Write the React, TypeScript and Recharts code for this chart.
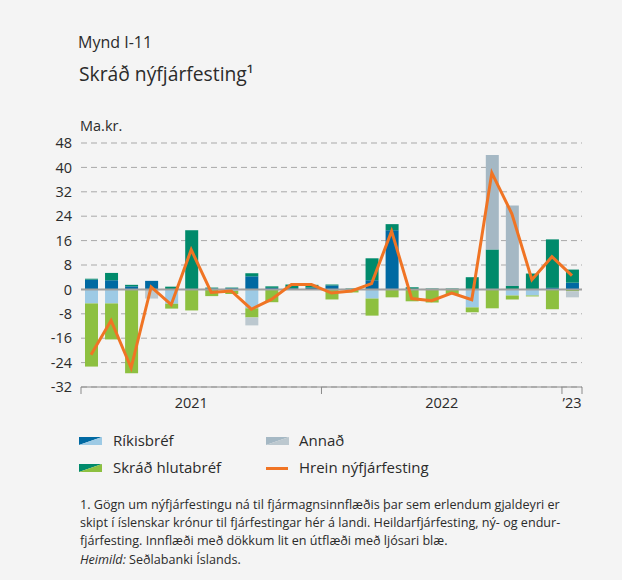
import React from 'react'
import {
  ComposedChart, Bar, Line, XAxis, YAxis, CartesianGrid, ReferenceLine,
} from 'recharts'

/* ── Gögn (ma.kr.), jan 2021 – jan 2023 ── */
const months = [
  '2021-01', '2021-02', '2021-03', '2021-04', '2021-05', '2021-06',
  '2021-07', '2021-08', '2021-09', '2021-10', '2021-11', '2021-12',
  '2022-01', '2022-02', '2022-03', '2022-04', '2022-05', '2022-06',
  '2022-07', '2022-08', '2022-09', '2022-10', '2022-11', '2022-12',
  '2023-01',
]
const rikisbrefInn = [3.2, 3.0, 1.0, 2.8, 0, 0, 0.3, 0.4, 4.3, 0.5, 0.4, 0.6, 1.3, 0, 3.0, 19.4, 0, 0, 0, 0, 0, 0, 0, 0.5, 2.2]
const rikisbrefUt = [-4.6, -4.6, 0, 0, -4.7, 0, 0, -0.5, -6.2, 0, 0, 0, 0, 0, -3.0, 0, 0, 0, 0, -5.9, 0, -2.0, -2.0, 0, 0]
const hlutabrefInn = [0.3, 2.4, 0.5, 0, 0.9, 19.4, 0.3, 0.2, 1.0, 0.5, 1.2, 0.9, 0.3, 0.3, 7.2, 2.0, 0.7, 0.3, 0.3, 4.0, 13.1, 1.1, 5.2, 15.9, 4.3]
const hlutabrefUt = [-20.7, -11.8, -27.5, 0, -1.6, -6.9, -2.2, -1.0, -3.0, -4.2, 0, 0, -3.3, -1.0, -5.6, -2.6, -3.9, -4.3, -1.6, -1.6, -6.2, -1.3, -0.3, -6.5, -0.6]
const annadInn = [0, 0, 0, 0, 0, 0, 0, 0, 0, 0, 0, 0, 0, 0, 0, 0, 0, 0, 0, 0, 31.0, 26.4, 0, 0, 0]
const annadUt = [0, 0, 0, -3.0, 0, 0, 0, 0, -2.6, 0, 0, 0, 0, 0, 0, 0, 0, 0, 0, 0, 0, 0, 0, 0, -2.0]
const hrein = [-21.4, -10.2, -25.7, 0.8, -5.0, 13.0, -1.0, -0.5, -6.5, -3.3, 1.6, 1.6, -1.2, -0.5, 1.9, 19.1, -3.0, -3.7, -1.2, -3.4, 38.2, 24.8, 3.2, 10.7, 4.5]
const yTicks = [-32, -24, -16, -8, 0, 8, 16, 24, 32, 40, 48]
const yearLabels: Record<number, string> = { 5: '2021', 17: '2022', 24: '\u201923' }

const data = months.map((m, i) => ({
  m,
  rikInn: rikisbrefInn[i],
  rikUt: rikisbrefUt[i],
  hlutInn: hlutabrefInn[i],
  hlutUt: hlutabrefUt[i],
  annInn: annadInn[i],
  annUt: annadUt[i],
  hrein: hrein[i],
}))

const C = {
  rikDark: '#0069a2',
  rikLight: '#9dcae5',
  hlutDark: '#008a6b',
  hlutLight: '#8dc040',
  annDark: '#a5b8c4',
  annLight: '#bcc8cf',
  line: '#f07424',
  text: '#2b2b2b',
  grid: '#a8a8a8',
  bg: '#f4f4f4',
}

const FONT = '"Open Sans", sans-serif'
const PLOT_LEFT = 81
const PLOT_RIGHT = 582
const STEP = (PLOT_RIGHT - PLOT_LEFT) / months.length

function MonthTick(props: any) {
  const { x, y, payload } = props
  const i = payload.index
  const label = yearLabels[i]
  let dx = 0
  if (i === 17) dx = STEP / 2
  return (
    <g>
      {i % 12 === 0 && (
        <line x1={x - STEP / 2} x2={x - STEP / 2} y1={y} y2={y + 7} stroke="#8a8a8a" />
      )}
      {i === months.length - 1 && (
        <line x1={x + STEP / 2} x2={x + STEP / 2} y1={y} y2={y + 7} stroke="#8a8a8a" />
      )}
      {label && (
        <text x={x + dx} y={y + 21} textAnchor="middle" fill={C.text} fontSize={14.5} fontFamily={FONT}>
          {label}
        </text>
      )}
    </g>
  )
}

function Swatch({ dark, light }: { dark: string; light: string }) {
  return (
    <svg width={23} height={8} style={{ display: 'block' }}>
      <polygon points="0,0 23,0 0,8" fill={dark} />
      <polygon points="23,0 23,8 0,8" fill={light} />
    </svg>
  )
}

const txt: React.CSSProperties = { position: 'absolute', color: C.text, fontFamily: FONT, whiteSpace: 'nowrap' }

export default function App() {
  return (
    <div style={{ position: 'relative', width: 622, height: 580, background: C.bg, overflow: 'hidden' }}>
      <style>{'body{margin:0}'}</style>
      <div style={{ ...txt, left: 78, top: 31, fontSize: 16 }}>Mynd I-11</div>
      <div style={{ ...txt, left: 79, top: 60, fontSize: 19.3 }}>Skráð nýfjárfesting¹</div>
      <div style={{ ...txt, left: 80, top: 116, fontSize: 14.5 }}>Ma.kr.</div>

      <div style={{ position: 'absolute', left: 0, top: 0 }}>
        <ComposedChart
          width={622}
          height={430}
          data={data}
          stackOffset="sign"
          barCategoryGap={0}
          margin={{ top: 143, right: 622 - PLOT_RIGHT, left: 0, bottom: 13 }}
        >
          <CartesianGrid vertical={false} stroke={C.grid} strokeDasharray="6 4" />
          <XAxis
            dataKey="m"
            interval={0}
            height={30}
            tickLine={false}
            tickSize={0}
            tickMargin={0}
            axisLine={{ stroke: '#8a8a8a' }}
            tick={<MonthTick />}
          />
          <YAxis
            width={PLOT_LEFT}
            domain={[-32, 48]}
            ticks={yTicks}
            interval={0}
            axisLine={false}
            tickLine={false}
            tickSize={0}
            tickMargin={9}
            tick={{ fill: C.text, fontSize: 14.5, fontFamily: FONT }}
          />
          <Bar dataKey="rikInn" stackId="s" fill={C.rikDark} barSize={13} isAnimationActive={false} />
          <Bar dataKey="rikUt" stackId="s" fill={C.rikLight} barSize={13} isAnimationActive={false} />
          <Bar dataKey="hlutInn" stackId="s" fill={C.hlutDark} barSize={13} isAnimationActive={false} />
          <Bar dataKey="hlutUt" stackId="s" fill={C.hlutLight} barSize={13} isAnimationActive={false} />
          <Bar dataKey="annInn" stackId="s" fill={C.annDark} barSize={13} isAnimationActive={false} />
          <Bar dataKey="annUt" stackId="s" fill={C.annLight} barSize={13} isAnimationActive={false} />
          <ReferenceLine y={0} stroke="#a0a0a0" strokeWidth={2} />
          <Line
            type="linear"
            dataKey="hrein"
            stroke={C.line}
            strokeWidth={3}
            dot={false}
            isAnimationActive={false}
          />
        </ComposedChart>
      </div>

      {/* Skýringar */}
      <div style={{ position: 'absolute', left: 79, top: 437 }}><Swatch dark={C.rikDark} light={C.rikLight} /></div>
      <div style={{ ...txt, left: 113, top: 430, fontSize: 15 }}>Ríkisbréf</div>
      <div style={{ position: 'absolute', left: 79, top: 464 }}><Swatch dark={C.hlutDark} light={C.hlutLight} /></div>
      <div style={{ ...txt, left: 113, top: 457, fontSize: 15 }}>Skráð hlutabréf</div>
      <div style={{ position: 'absolute', left: 266, top: 437 }}><Swatch dark={C.annDark} light={C.annLight} /></div>
      <div style={{ ...txt, left: 299, top: 430, fontSize: 15 }}>Annað</div>
      <div style={{ position: 'absolute', left: 266, top: 467, width: 22, height: 3, background: C.line }} />
      <div style={{ ...txt, left: 299, top: 457, fontSize: 15 }}>Hrein nýfjárfesting</div>

      <div style={{ ...txt, left: 80, top: 496, fontSize: 12.6, lineHeight: '18px' }}>
        1. Gögn um nýfjárfestingu ná til fjármagnsinnflæðis þar sem erlendum gjaldeyri er<br />
        skipt í íslenskar krónur til fjárfestingar hér á landi. Heildarfjárfesting, ný- og endur-<br />
        fjárfesting. Innflæði með dökkum lit en útflæði með ljósari blæ.
      </div>
      <div style={{ ...txt, left: 80, top: 551, fontSize: 12.6 }}>
        <i>Heimild:</i> Seðlabanki Íslands.
      </div>
    </div>
  )
}
